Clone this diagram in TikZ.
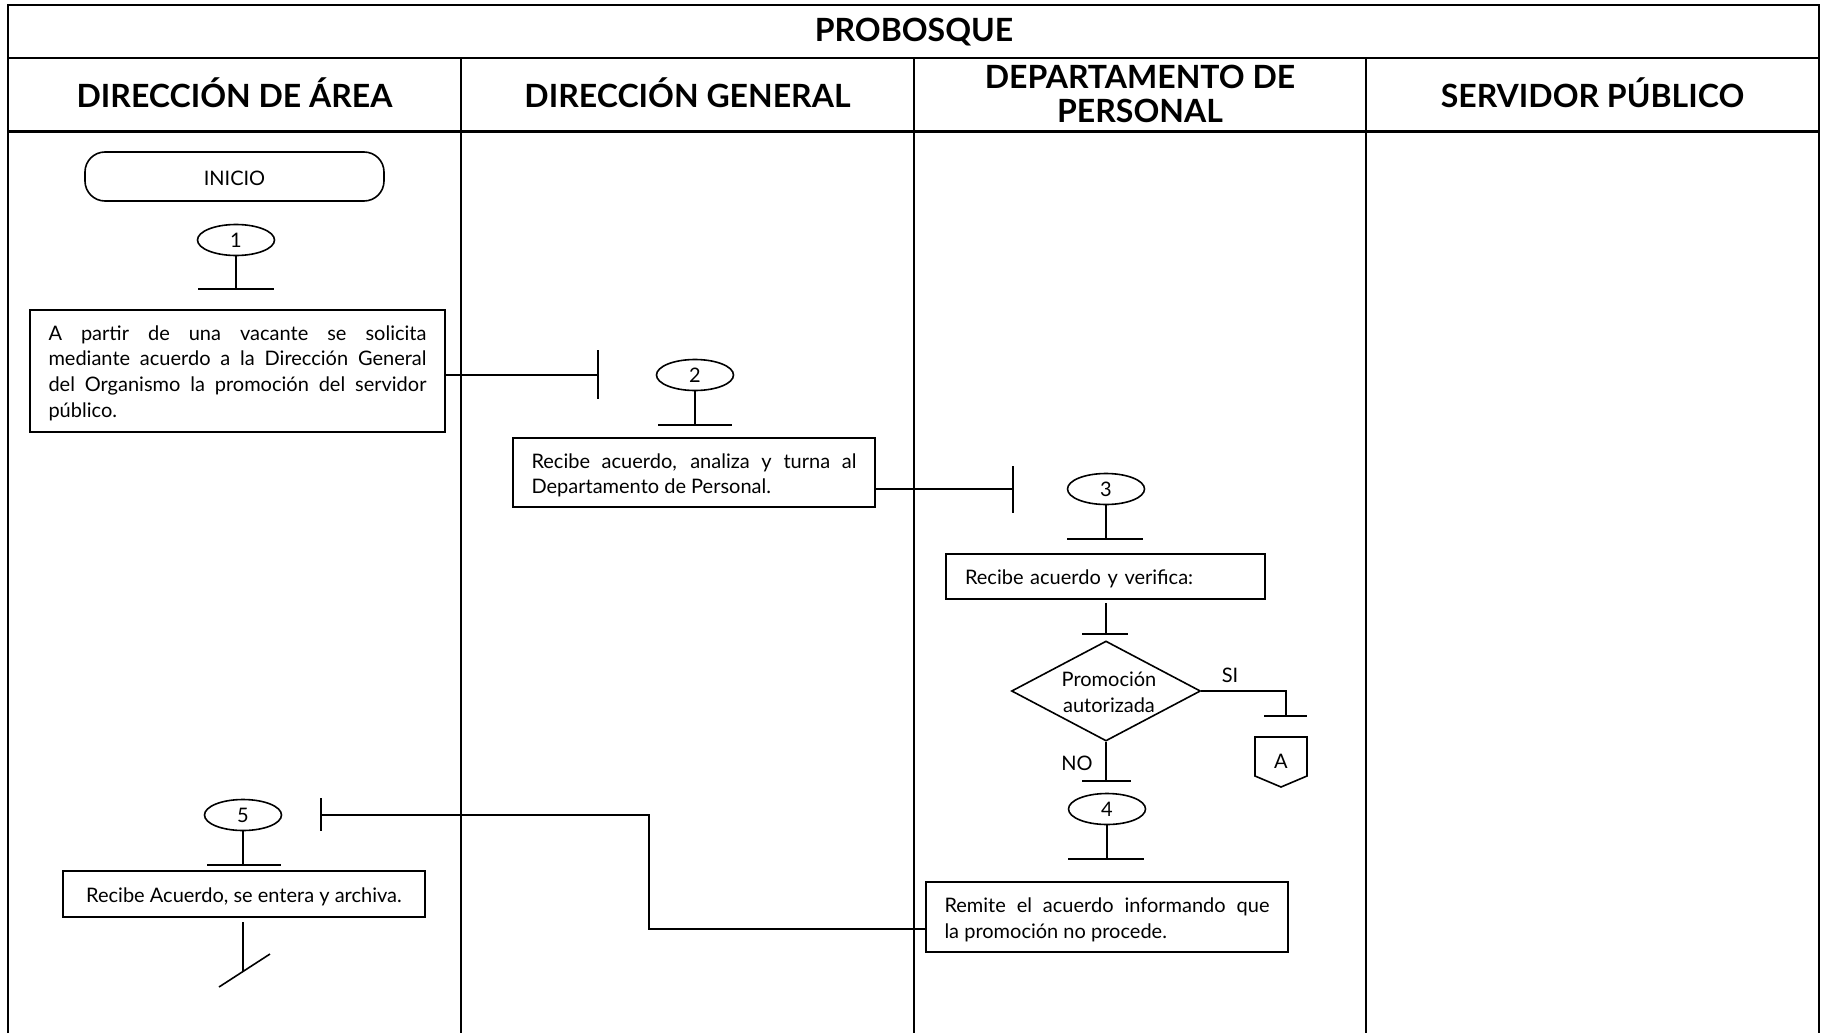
\documentclass[tikz,border=0pt]{standalone}
\usepackage{fontspec}
\setmainfont{Lato}
\usetikzlibrary{shapes.geometric}
\hyphenpenalty=10000
\exhyphenpenalty=10000
\newcommand\mybodyfont{\fontsize{20}{25.6}\selectfont}
\newcommand\myhdrfont{\bfseries\fontsize{32}{34}\selectfont}
\begin{document}
\begin{tikzpicture}[x=1pt,y=-1pt,
  frame/.style={line width=2.2pt},
  ln/.style={line width=1.6pt},
  body/.style={font=\mybodyfont},
  hdr/.style={font=\myhdrfont, align=center},
  box/.style={draw, line width=1.6pt, inner sep=0pt},
  txt/.style={body, inner sep=0pt, align=justify},
  conn/.style={draw, ellipse, line width=1.6pt, minimum width=77pt, minimum height=31pt, inner sep=0pt, body},
  lbl/.style={body, inner sep=0pt}
]
\useasboundingbox (0,0) rectangle (1825,1033);
% frame
\draw[frame] (8,1033) -- (8,5) -- (1819,5) -- (1819,1033);
\draw[frame] (8,58) -- (1819,58);
\draw[frame] (8,131.5) -- (1819,131.5);
\draw[frame] (461,58) -- (461,1033);
\draw[frame] (914,58) -- (914,1033);
\draw[frame] (1366,58) -- (1366,1033);
\node[hdr] (title) at (914,32) {PROBOSQUE};
\node[hdr] (h1) at (234.5,93) {DIRECCIÓN DE ÁREA};
\node[hdr] (h2) at (687.5,93) {DIRECCIÓN GENERAL};
\node[hdr] (h3) at (1140,94) {DEPARTAMENTO DE\\PERSONAL};
\node[hdr] (h4) at (1592.5,93) {SERVIDOR PÚBLICO};

% INICIO
\node[box, rounded corners=20pt, minimum width=299pt, minimum height=49pt] (inicio) at (234.5,176.5) {};
\node[lbl] (iniciot) at (234.5,178) {INICIO};

% step 1
\node[conn] (c1) at (236,240) {1};
\coordinate (b1l) at (198,289); \coordinate (b1r) at (274,289);
\draw[ln] (c1.south) -- (c1.south |- b1l);
\draw[ln] (b1l) -- (b1r);
\node[box, minimum width=415pt, minimum height=122pt] (p1) at (237.5,371) {};
\node[txt, text width=378pt] (p1t) at (237.5,373)
 {A partir de una vacante se solicita\linebreak mediante acuerdo a la Dirección General\linebreak del Organismo la promoción del servidor\linebreak público.};
\coordinate (t1) at (598,375);
\draw[ln] (p1.east |- t1) -- (t1);
\draw[ln] (598,350) -- (598,399);

% step 2
\node[conn] (c2) at (695,375) {2};
\coordinate (b2l) at (658,425); \coordinate (b2r) at (732,425);
\draw[ln] (c2.south) -- (c2.south |- b2l);
\draw[ln] (b2l) -- (b2r);
\node[box, minimum width=362pt, minimum height=69pt] (p2) at (694,472.5) {};
\node[txt, text width=325pt] (p2t) at (694,475.5)
 {Recibe acuerdo, analiza y turna al\linebreak Departamento de Personal.};
\coordinate (t2) at (1013,489);
\draw[ln] (p2.east |- t2) -- (t2);
\draw[ln] (1013,466) -- (1013,513);

% step 3
\node[conn] (c3) at (1106,489) {3};
\coordinate (b3l) at (1067,539); \coordinate (b3r) at (1143,539);
\draw[ln] (c3.south) -- (c3.south |- b3l);
\draw[ln] (b3l) -- (b3r);
\node[box, minimum width=319pt, minimum height=45pt] (p3) at (1105.5,576.5) {};
\node[txt, text width=281pt, align=left] (p3t) at (1105.5,579)
 {Recibe acuerdo y verifica:};
\coordinate (d3t) at (1106,603);
\coordinate (d3l) at (1082,634); \coordinate (d3r) at (1128,634);
\draw[ln] (d3t) -- (d3t |- d3l);
\draw[ln] (d3l) -- (d3r);

% decision
\node[draw, diamond, ln, minimum width=189pt, minimum height=100pt, inner sep=0pt] (dec) at (1106,691) {};
\node[lbl, align=center] (dect) at (1109,692) {Promoción\\autorizada};
\coordinate (si) at (1286,691);
\coordinate (sil) at (1264,716); \coordinate (sir) at (1307,716);
\draw[ln] (dec.east) -- (si) -- (si |- sil);
\draw[ln] (sil) -- (sir);
\node[lbl] (silbl) at (1230,675) {SI};
\coordinate (offA) at (1281,761);
\draw[ln] (1255,737) -- (1307,737) -- (1307,776) -- (1281,787) -- (1255,776) -- cycle;
\node[lbl] (alb) at (offA) {A};
\coordinate (nol) at (1082,781); \coordinate (nor) at (1131,781);
\draw[ln] (dec.south) -- (dec.south |- nol);
\draw[ln] (nol) -- (nor);
\node[lbl] (nolbl) at (1077,763) {NO};

% step 4
\node[conn] (c4) at (1107,809) {4};
\coordinate (b4l) at (1068,859); \coordinate (b4r) at (1144,859);
\draw[ln] (c4.south) -- (c4.south |- b4l);
\draw[ln] (b4l) -- (b4r);
\node[box, minimum width=362pt, minimum height=70pt] (p4) at (1107,917) {};
\node[txt, text width=325pt] (p4t) at (1107,920)
 {Remite el acuerdo informando que\linebreak la promoción no procede.};
\coordinate (r4) at (649,929);
\coordinate (t5) at (321,815);
\draw[ln] (p4.west |- r4) -- (r4) -- (r4 |- t5) -- (t5);
\draw[ln] (321,798) -- (321,831);

% step 5
\node[conn] (c5) at (243,815) {5};
\coordinate (b5l) at (207,865); \coordinate (b5r) at (281,865);
\draw[ln] (c5.south) -- (c5.south |- b5l);
\draw[ln] (b5l) -- (b5r);
\node[box, minimum width=362pt, minimum height=46pt] (p5) at (244,894) {};
\node[lbl] (p5t) at (244,897) {Recibe Acuerdo, se entera y archiva.};
\coordinate (e1) at (243,922);
\coordinate (e2) at (243,971.5);
\draw[ln] (e1) -- (e2);
\draw[ln] (219,987) -- (270,954);
\end{tikzpicture}
\end{document}
